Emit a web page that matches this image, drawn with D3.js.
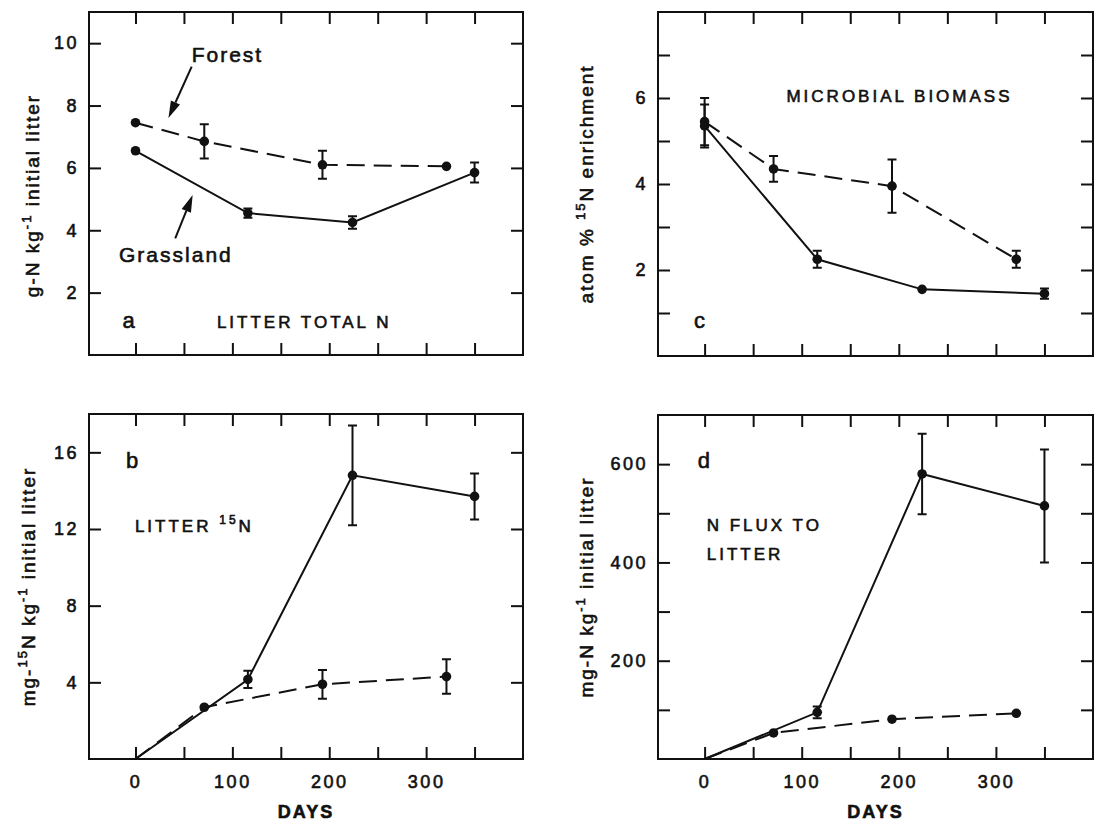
<!DOCTYPE html>
<html>
<head>
<meta charset="utf-8">
<script src="https://cdn.jsdelivr.net/npm/d3@7"></script>
<style>
body { margin: 0; background: #fff; }
text { font-family: "Liberation Sans", Arial, sans-serif; fill: #111; stroke: #111; stroke-width: 0.6px; }
</style>
</head>
<body>
<script>
// sampling days
var forestDays = [0, 71, 193, 321];
var grassDays = [0, 116, 224, 350];

// a: litter total N (g-N / kg initial litter)
var forestTotalN = [7.45, 6.85, 6.1, 6.05];
var forestTotalNErr = [0, 0.55, 0.45, 0];
var grassTotalN = [6.55, 4.55, 4.25, 5.85];
var grassTotalNErr = [0, 0.15, 0.2, 0.32];

// b: litter 15N (mg-15N / kg initial litter)
var forestLitter15N = [0, 2.7, 3.9, 4.3];
var forestLitter15NErr = [0, 0, 0.75, 0.9];
var grassLitter15N = [0, 4.15, 14.8, 13.7];
var grassLitter15NErr = [0, 0.45, 2.6, 1.2];

// c: microbial biomass (atom % 15N enrichment)
var forestBiomass = [5.45, 4.35, 3.95, 2.25];
var forestBiomassErr = [0.55, 0.3, 0.62, 0.2];
var grassBiomass = [5.35, 2.25, 1.55, 1.45];
var grassBiomassErr = [0.5, 0.2, 0, 0.12];

// d: N flux to litter (mg-N / kg initial litter)
var forestFlux = [0, 53, 81, 93];
var forestFluxErr = [0, 0, 0, 0];
var grassFlux = [0, 95, 580, 515];
var grassFluxErr = [0, 12, 82, 115];

var xTicks = [0, 50, 100, 150, 200, 250, 300, 350];
var xLabels = [0, 100, 200, 300];
var yTicksA = [2, 4, 6, 8, 10];
var yTicksB = [4, 8, 12, 16];
var yTicksC = [1, 2, 3, 4, 5, 6, 7];
var yLabelsC = [2, 4, 6];
var yTicksD = [100, 200, 300, 400, 500, 600];
var yLabelsD = [200, 400, 600];

var width = 1096, height = 821;
var svg = d3.select("body").append("svg")
   .attr("width", width)
   .attr("height", height);

function series(days, vals, errs) {
   return days.map(function (d, i) { return {day: d, v: vals[i], e: errs[i]}; });
}

function panel(p) {
   var x = d3.scaleLinear().domain([-48, 400]).range([p.left, p.right]);
   var y = d3.scaleLinear().domain(p.yDomain).range([p.bottom, p.top]);
   var g = svg.append("g");

   // axes, ticks inward on all four sides
   var yl = d3.axisLeft(y).tickValues(p.yTicks).tickSize(-12).tickPadding(10)
      .tickFormat(function (d) { return p.yLabels.indexOf(d) >= 0 ? d : ""; });
   var yr = d3.axisRight(y).tickValues(p.yTicks).tickSize(-12).tickFormat("");
   var xt = d3.axisTop(x).tickValues(xTicks).tickSize(-12).tickFormat("");
   var xb = d3.axisBottom(x).tickValues(xTicks).tickSize(-12).tickPadding(16)
      .tickFormat(function (d) { return p.xLabels && xLabels.indexOf(d) >= 0 ? d : ""; });

   [[yl, "translate(" + p.left + ",0)"], [yr, "translate(" + p.right + ",0)"],
    [xt, "translate(0," + p.top + ")"], [xb, "translate(0," + p.bottom + ")"]].forEach(function (a) {
      var ax = g.append("g").attr("transform", a[1]).call(a[0]);
      ax.select(".domain").remove();
      ax.selectAll("line").attr("stroke", "#111").attr("stroke-width", 2);
      ax.selectAll("text").attr("font-size", 18).style("letter-spacing", "2.5px")
         .attr("font-family", null).attr("fill", "#111");
   });

   g.append("rect")
      .attr("x", p.left).attr("y", p.top)
      .attr("width", p.right - p.left).attr("height", p.bottom - p.top)
      .attr("fill", "none").attr("stroke", "#111").attr("stroke-width", 2);

   var line = d3.line().x(function (d) { return x(d.day); }).y(function (d) { return y(d.v); });

   p.series.forEach(function (s) {
      g.append("path").datum(s.data)
         .attr("d", line)
         .attr("fill", "none").attr("stroke", "#111").attr("stroke-width", 2)
         .attr("stroke-dasharray", s.dashed ? "18,9" : null);

      var eb = s.data.filter(function (d) { return d.e > 0; });
      g.selectAll(null).data(eb).enter().append("path")
         .attr("d", function (d) {
            var cx = x(d.day), y0 = y(d.v - d.e), y1 = y(d.v + d.e);
            return "M" + cx + "," + y0 + "V" + y1 +
               "M" + (cx - 4.5) + "," + y0 + "H" + (cx + 4.5) +
               "M" + (cx - 4.5) + "," + y1 + "H" + (cx + 4.5);
         })
         .attr("fill", "none").attr("stroke", "#111").attr("stroke-width", 2);

      g.selectAll(null).data(s.data.filter(function (d) { return d.v > 0; })).enter().append("circle")
         .attr("cx", function (d) { return x(d.day); })
         .attr("cy", function (d) { return y(d.v); })
         .attr("r", 4.8)
         .attr("fill", "#111");
   });

   // y axis title
   var yt = g.append("text")
      .attr("transform", "translate(" + p.yTitleX + "," + ((p.top + p.bottom) / 2 + (p.yTitleShift || 0)) + ") rotate(-90)")
      .attr("text-anchor", "middle").attr("dy", "0.35em")
      .attr("font-size", 19).style("letter-spacing", "2px");
   p.yTitle.forEach(function (t) {
      yt.append("tspan").text(t[0])
         .attr("font-size", t[1] ? 13 : null)
         .attr("dy", t[1] ? -8 : (t[2] ? 8 : null));
   });

   // in-panel labels
   p.notes.forEach(function (n) {
      var t = g.append("text")
         .attr("x", x(n.day)).attr("y", y(n.v))
         .attr("font-size", n.size)
         .style("letter-spacing", n.ls + "px");
      n.parts.forEach(function (part) {
         t.append("tspan").text(part[0])
            .attr("font-size", part[1] ? 12 : null)
            .attr("dy", part[1] ? -8 : (part[2] ? 8 : null));
      });
   });

   (p.arrows || []).forEach(function (a) {
      var x0 = x(a.from[0]), y0 = y(a.from[1]), x1 = x(a.to[0]), y1 = y(a.to[1]);
      var ang = Math.atan2(y1 - y0, x1 - x0), L = 17, W = 5;
      var bx = x1 - L * Math.cos(ang), by = y1 - L * Math.sin(ang);
      g.append("line").attr("x1", x0).attr("y1", y0).attr("x2", bx).attr("y2", by)
         .attr("stroke", "#111").attr("stroke-width", 2);
      g.append("path")
         .attr("d", "M" + x1 + "," + y1 +
            "L" + (bx + W * Math.sin(ang)) + "," + (by - W * Math.cos(ang)) +
            "L" + (bx - W * Math.sin(ang)) + "," + (by + W * Math.cos(ang)) + "Z")
         .attr("fill", "#111");
   });

   if (p.xLabels) {
      g.append("text")
         .attr("x", (p.left + p.right) / 2).attr("y", 818)
         .attr("text-anchor", "middle")
         .attr("font-size", 18).attr("font-weight", "bold")
         .style("letter-spacing", "2px")
         .text("DAYS");
   }
}

panel({
   left: 89, right: 523, top: 12, bottom: 355,
   yDomain: [0, 11], yTicks: yTicksA, yLabels: yTicksA,
   yTitleX: 32, yTitleShift: 12,
   yTitle: [["g-N kg"], ["-1", true], [" initial litter", false, true]],
   series: [
      {data: series(forestDays, forestTotalN, forestTotalNErr), dashed: true},
      {data: series(grassDays, grassTotalN, grassTotalNErr), dashed: false}
   ],
   notes: [
      {day: -13.5, v: 0.87, size: 22, ls: 0, parts: [["a"]]},
      {day: 84, v: 0.87, size: 17, ls: 3, parts: [["LITTER TOTAL N"]]},
      {day: 58, v: 9.41, size: 21, ls: 2, parts: [["Forest"]]},
      {day: -17, v: 2.99, size: 21, ls: 2, parts: [["Grassland"]]}
   ],
   arrows: [
      {from: [58, 9.25], to: [34, 7.6]},
      {from: [41, 3.74], to: [59, 5.13]}
   ]
});

panel({
   left: 89, right: 523, top: 414, bottom: 759,
   yDomain: [0, 18], yTicks: yTicksB, yLabels: yTicksB, xLabels: true,
   yTitleX: 28,
   yTitle: [["mg-"], ["15", true], ["N kg", false, true], ["-1", true], [" initial litter", false, true]],
   series: [
      {data: series(forestDays, forestLitter15N, forestLitter15NErr), dashed: true},
      {data: series(grassDays, grassLitter15N, grassLitter15NErr), dashed: false}
   ],
   notes: [
      {day: -9.8, v: 15.18, size: 22, ls: 0, parts: [["b"]]},
      {day: -0.6, v: 11.84, size: 17, ls: 3, parts: [["LITTER "], ["15", true], ["N", false, true]]}
   ]
});

panel({
   left: 658, right: 1093, top: 12, bottom: 356,
   yDomain: [0, 8], yTicks: yTicksC, yLabels: yLabelsC,
   yTitleX: 586,
   yTitle: [["atom % "], ["15", true], ["N enrichment", false, true]],
   series: [
      {data: series(forestDays, forestBiomass, forestBiomassErr), dashed: true},
      {data: series(grassDays, grassBiomass, grassBiomassErr), dashed: false}
   ],
   notes: [
      {day: -10.9, v: 0.65, size: 22, ls: 0, parts: [["c"]]},
      {day: 84.3, v: 5.91, size: 17, ls: 3, parts: [["MICROBIAL BIOMASS"]]}
   ]
});

panel({
   left: 658, right: 1093, top: 415, bottom: 759,
   yDomain: [0, 700], yTicks: yTicksD, yLabels: yLabelsD, xLabels: true,
   yTitleX: 586,
   yTitle: [["mg-N kg"], ["-1", true], [" initial litter", false, true]],
   series: [
      {data: series(forestDays, forestFlux, forestFluxErr), dashed: true},
      {data: series(grassDays, grassFlux, grassFluxErr), dashed: false}
   ],
   notes: [
      {day: -7, v: 592, size: 22, ls: 0, parts: [["d"]]},
      {day: 2.2, v: 464, size: 17, ls: 3, parts: [["N FLUX TO"]]},
      {day: 2.2, v: 405, size: 17, ls: 3, parts: [["LITTER"]]}
   ]
});
</script>
</body>
</html>
